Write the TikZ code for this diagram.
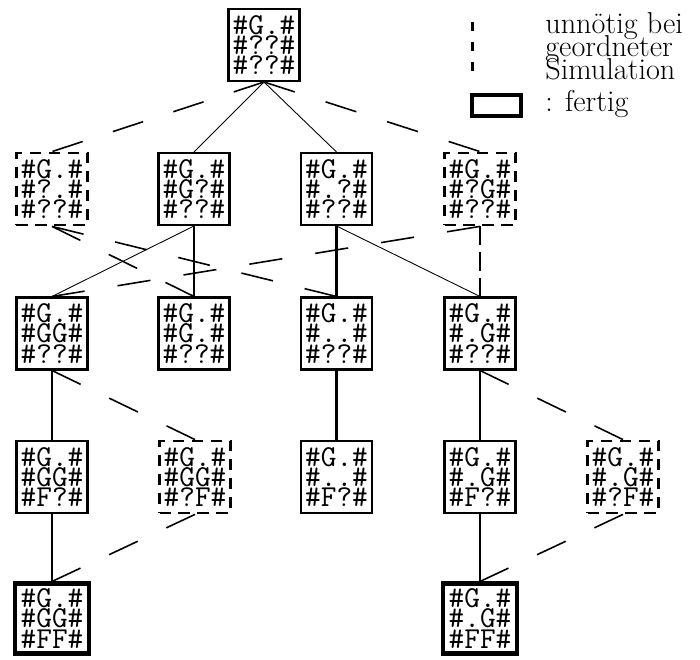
\documentclass[tikz,border=0pt]{standalone}
\usepackage{tikz}
% rows of a box sit closer than the font wants
\lineskiplimit=-20pt
\tikzset{
  zustand/.style={draw,line width=1.15pt,inner sep=0pt,minimum width=1.42cm,minimum height=1.44cm,
    align=left,font=\fontsize{17.3}{11.4}\selectfont\ttfamily},
  unnoetig/.style={zustand,line width=1.6pt,dash pattern=on 6.3pt off 4.5pt},
  fertig/.style={zustand,line width=2.3pt,minimum width=1.48cm,minimum height=1.40cm},
  zug/.style={line width=0.5pt},
  senk/.style={line width=1.2pt},
  % dash length chosen per edge so that it starts and ends with a dash
  weg/.style={line width=0.9pt,dash pattern=on #1 off #1},
  weg/.default=18.2pt,
  wegsenk/.style={line width=1.5pt,dash pattern=on 10.5pt off 4.3pt},
  legende/.style={inner sep=0pt,align=left,font=\fontsize{17.2}{13}\selectfont}
}

\begin{document}
\begin{tikzpicture}
    \useasboundingbox (0,0) rectangle (14,-13.2);
    % Zustaende, zeilenweise
    \node[zustand] (s0) at (5.28,-0.90) {\#G.\#\\\#??\#\\\#??\#};

    \node[unnoetig] (s1a) at (1.04,-3.78) {\#G.\#\\\#?.\#\\\#??\#};
    \node[zustand] (s1b) at (3.88,-3.78) {\#G.\#\\\#G?\#\\\#??\#};
    \node[zustand] (s1c) at (6.73,-3.78) {\#G.\#\\\#.?\#\\\#??\#};
    \node[unnoetig] (s1d) at (9.60,-3.78) {\#G.\#\\\#?G\#\\\#??\#};

    \node[zustand] (s2a) at (1.04,-6.67) {\#G.\#\\\#GG\#\\\#??\#};
    \node[zustand] (s2b) at (3.88,-6.67) {\#G.\#\\\#G.\#\\\#??\#};
    \node[zustand] (s2c) at (6.73,-6.67) {\#G.\#\\\#..\#\\\#??\#};
    \node[zustand] (s2d) at (9.60,-6.67) {\#G.\#\\\#.G\#\\\#??\#};

    \node[zustand] (s3a) at (1.04,-9.54) {\#G.\#\\\#GG\#\\\#F?\#};
    \node[unnoetig] (s3b) at (3.90,-9.54) {\#G.\#\\\#GG\#\\\#?F\#};
    \node[zustand] (s3c) at (6.73,-9.54) {\#G.\#\\\#..\#\\\#F?\#};
    \node[zustand] (s3d) at (9.60,-9.54) {\#G.\#\\\#.G\#\\\#F?\#};
    \node[unnoetig] (s3e) at (12.46,-9.54) {\#G.\#\\\#.G\#\\\#?F\#};

    \node[fertig] (s4a) at (1.04,-12.37) {\#G.\#\\\#GG\#\\\#FF\#};
    \node[fertig] (s4d) at (9.60,-12.37) {\#G.\#\\\#.G\#\\\#FF\#};

    % Uebergaenge
    \draw[weg=18.1pt] (s0.south) -- (s1a.north);
    \draw[zug] (s0.south) -- (s1b.north);
    \draw[zug] (s0.south) -- (s1c.north);
    \draw[weg=18.4pt] (s0.south) -- (s1d.north);

    \draw[weg=18.0pt] (s1a.south) -- (s2b.north);
    \draw[weg=18.5pt] (s1a.south) -- (s2c.north);
    \draw[zug] (s1b.south) -- (s2a.north);
    \draw[senk] (s1b.south) -- (s2b.north);
    \draw[senk] (s1c.south) -- (s2c.north);
    \draw[zug] (s1c.south) -- (s2d.north);
    \draw[weg=19.0pt] (s1d.south) -- (s2a.north);
    \draw[wegsenk] (s1d.south) -- (s2d.north);

    \draw[senk] (s2a.south) -- (s3a.north);
    \draw[weg=18.1pt] (s2a.south) -- (s3b.north);
    \draw[senk] (s2c.south) -- (s3c.north);
    \draw[senk] (s2d.south) -- (s3d.north);
    \draw[weg=18.1pt] (s2d.south) -- (s3e.north);

    \draw[senk] (s3a.south) -- (s4a.north);
    \draw[weg=18.0pt] (s3b.south) -- (s4a.north);
    \draw[senk] (s3d.south) -- (s4d.north);
    \draw[weg=18.0pt] (s3e.south) -- (s4d.north);

    % Legende
    \coordinate (l1) at (9.44,-0.44);
    \coordinate (l2) at (9.44,-1.42);
    \draw[line width=1.7pt,dash pattern=on 5.1pt off 6.3pt] (l1) -- (l2);
    \node[legende,anchor=north west] (legtext) at (10.9,-0.24) {unnötig bei\\geordneter\\Simulation};
    \node[draw,line width=2.3pt,inner sep=0pt,minimum width=0.98cm,minimum height=0.42cm] (legbox) at (9.93,-2.11) {};
    \node[legende,anchor=base west] (legfertig) at (10.9,-2.24) {: fertig};
\end{tikzpicture}
\end{document}
